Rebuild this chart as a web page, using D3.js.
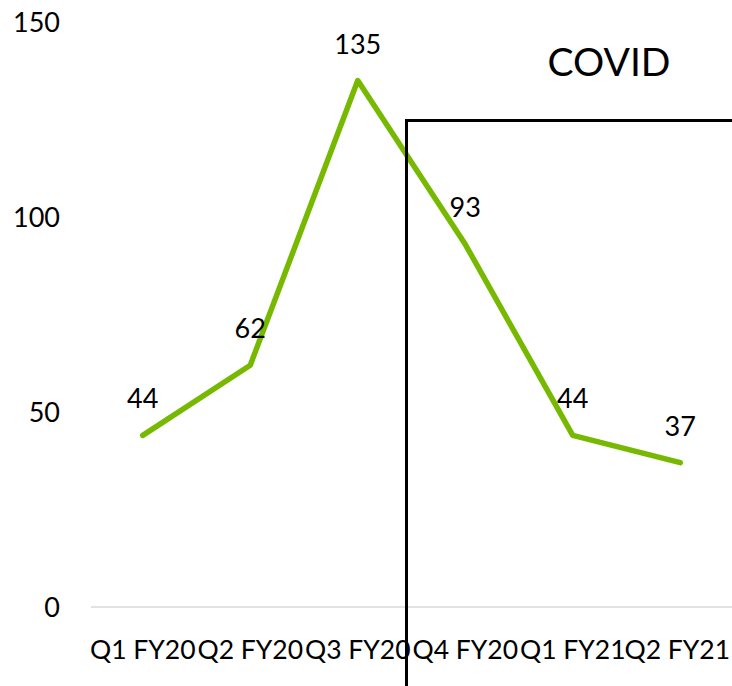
<!DOCTYPE html>
<html>
<head>
<meta charset="utf-8">
<script src="https://cdn.jsdelivr.net/npm/d3@7"></script>
<style>
  html, body { margin: 0; padding: 0; background: #fff; }
  svg { display: block; font-family: Lato, "Open Sans", sans-serif; }
</style>
</head>
<body>
<svg id="chart" width="732" height="686"></svg>
<script>
// Quarterly values
const quarters = ["Q1 FY20", "Q2 FY20", "Q3 FY20", "Q4 FY20", "Q1 FY21", "Q2 FY21"];
const values = [44, 62, 135, 93, 44, 37];
const yTicks = [0, 50, 100, 150];
// COVID period marker: starts at this quarter, box top at this value
const covidStart = "Q4 FY20";
const covidTop = 125;
const covidLabel = "COVID";

const width = 732, height = 686;
const svg = d3.select("#chart");

const x = d3.scaleBand().domain(quarters).range([89, 734]).padding(0);
const y = d3.scaleLinear().domain([0, 150]).range([607, 22]);

// Baseline
svg.append("line")
  .attr("x1", x.range()[0] + 2).attr("x2", width)
  .attr("y1", y(0)).attr("y2", y(0))
  .attr("stroke", "#d9d9d9").attr("stroke-width", 1.5);

// Y axis labels
const yAxis = d3.axisLeft(y).tickValues(yTicks).tickSize(0).tickPadding(0);
const gy = svg.append("g").attr("transform", "translate(60,0)").call(yAxis);
gy.select(".domain").remove();
gy.selectAll("text")
  .attr("font-family", "Lato, 'Open Sans', sans-serif")
  .attr("font-size", 27).attr("fill", "#000").attr("dy", "0.35em");

// X axis labels
const xAxis = d3.axisBottom(x).tickSize(0).tickPadding(0);
const gx = svg.append("g").attr("transform", `translate(0,${y(0)})`).call(xAxis);
gx.select(".domain").remove();
gx.selectAll("text")
  .attr("font-family", "Lato, 'Open Sans', sans-serif")
  .attr("font-size", 26.5).attr("fill", "#000")
  .attr("dy", null).attr("y", 52);
// keep the last label inside the right edge
gx.selectAll(".tick").filter((d, i, n) => i === n.length - 1)
  .select("text").attr("x", -3);

// Line
const line = d3.line()
  .x((d, i) => x(quarters[i]) + x.bandwidth() / 2)
  .y(d => y(d));

svg.append("path")
  .datum(values)
  .attr("d", line)
  .attr("fill", "none")
  .attr("stroke", "#76B900")
  .attr("stroke-width", 5.5)
  .attr("stroke-linejoin", "round")
  .attr("stroke-linecap", "round");

// Value labels
svg.append("g").selectAll("text")
  .data(values)
  .join("text")
  .attr("x", (d, i) => x(quarters[i]) + x.bandwidth() / 2)
  .attr("y", d => y(d) - 27)
  .attr("text-anchor", "middle")
  .attr("font-size", 27)
  .attr("fill", "#000")
  .text(d => d);

// COVID box
const bx = x(covidStart) - 5;
const by = y(covidTop) + 1;
svg.append("path")
  .attr("d", `M${bx},${height} L${bx},${by} L${width},${by}`)
  .attr("fill", "none")
  .attr("stroke", "#000")
  .attr("stroke-width", 3);

svg.append("text")
  .attr("x", 609)
  .attr("y", 76)
  .attr("text-anchor", "middle")
  .attr("font-size", 39)
  .attr("fill", "#000")
  .text(covidLabel);
</script>
</body>
</html>
